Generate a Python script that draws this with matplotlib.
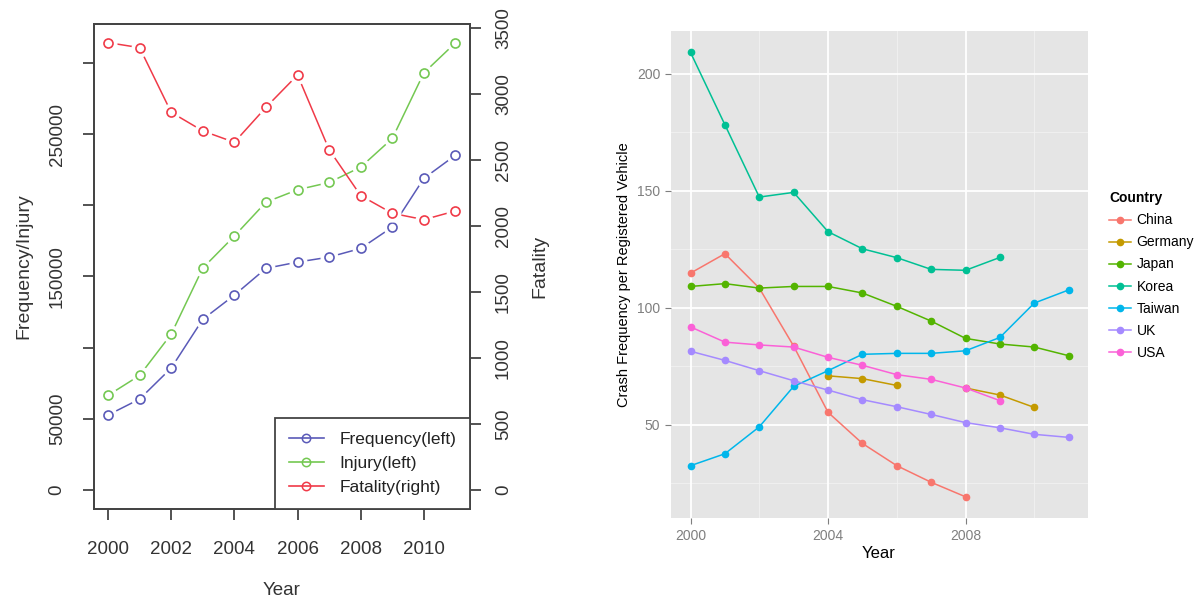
import numpy as np
import matplotlib
matplotlib.use("Agg")
import matplotlib.pyplot as plt
from matplotlib.lines import Line2D

# ---- left panel data ----
years_left = list(range(2000, 2012))
frequency = [52700, 63900, 85700, 119900, 136900, 155700, 160100, 163600,
             169700, 184700, 218900, 235200]
injury = [66500, 80500, 109500, 155900, 178400, 202200, 210900, 216000,
          226800, 246900, 293000, 314100]
fatality = [3389, 3351, 2861, 2720, 2634, 2899, 3144, 2578, 2230, 2096,
            2048, 2114]
left_ticks = [0, 50000, 100000, 150000, 200000, 250000, 300000]
left_ticklabels = ["0", "50000", "", "150000", "", "250000", ""]
right_ticks = [0, 500, 1000, 1500, 2000, 2500, 3000, 3500]
x_ticks_left = [2000, 2002, 2004, 2006, 2008, 2010]

# ---- right panel data ----
years_right = list(range(2000, 2012))
nan = np.nan
countries = ["China", "Germany", "Japan", "Korea", "Taiwan", "UK", "USA"]
china = [114.8, 123.1, 108.4, 83.6, 55.3, 42.0, 32.5, 25.4, 19.2, nan, nan, nan]
germany = [nan, nan, nan, nan, 70.9, 69.7, 66.8, nan, 65.7, 62.7, 57.4, nan]
japan = [109.1, 110.3, 108.4, 109.1, 109.1, 106.3, 100.6, 94.3, 86.9, 84.5, 83.2, 79.5]
korea = [209.1, 178.2, 147.3, 149.3, 132.5, 125.2, 121.4, 116.4, 116.0, 121.5, nan, nan]
taiwan = [32.5, 37.6, 49.1, 66.4, 73.1, 80.1, 80.5, 80.5, 81.6, 87.3, 102.0, 107.6]
uk = [81.4, 77.5, 73.1, 68.8, 64.8, 60.7, 57.7, 54.4, 50.9, 48.7, 45.9, 44.6]
usa = [91.8, 85.3, 84.1, 83.2, 78.8, 75.4, 71.4, 69.4, 65.7, 60.3, nan, nan]
country_values = [china, germany, japan, korea, taiwan, uk, usa]
country_colors = ["#F8766D", "#C49A00", "#53B400", "#00C094", "#00B6EB",
                  "#A58AFF", "#FB61D7"]

fig = plt.figure(figsize=(12.02, 6.02), dpi=100)
plt.rcParams['font.family'] = ['Liberation Sans', 'DejaVu Sans']
axis_col = "#444444"

# ================= left panel (R base style) =================
ax = fig.add_axes([0.0778, 0.1545, 0.3132, 0.8056])
ax2 = ax.twinx()

def r_series(axis, x, y, color, z):
    # R type="b": line with gaps around open circles
    axis.plot(x, y, color=color, lw=1.1, zorder=z)
    axis.plot(x, y, ls='none', marker='o', ms=12, mfc='white', mec='white',
              zorder=z + 0.1)
    axis.plot(x, y, ls='none', marker='o', ms=6.5, mfc='none', mec=color,
              mew=1.2, zorder=z + 0.2)

blue, green, red = "#5A5AB8", "#74C852", "#F03A48"
r_series(ax, years_left, frequency, blue, 2)
r_series(ax, years_left, injury, green, 3)
r_series(ax2, years_left, fatality, red, 2)

ax.set_xlim(1999.54, 2011.46)
ax.set_ylim(-13300, 327300)
ax2.set_ylim(-144, 3530)

for a in (ax, ax2):
    for s in a.spines.values():
        s.set_color(axis_col)
        s.set_linewidth(1.3)
    a.tick_params(colors=axis_col, width=1.3, length=8)

ax.set_xticks(x_ticks_left)
ax.set_xticklabels([str(v) for v in x_ticks_left], fontsize=13.5,
                   color="#333333")
ax.tick_params(axis='x', pad=15)
ax.set_yticks(left_ticks)
ax.set_yticklabels(left_ticklabels, rotation=90, va='center', fontsize=13.5,
                   color="#333333")
ax.tick_params(axis='y', pad=12)
ax2.set_yticks(right_ticks)
ax2.set_yticklabels([str(v) for v in right_ticks], rotation=90, va='center',
                    fontsize=13.5, color="#333333")
ax2.tick_params(axis='y', pad=10)

ax.set_xlabel("Year", fontsize=13.5, color="#333333", labelpad=17)
ax.set_ylabel("Frequency/Injury", fontsize=14, color="#333333", labelpad=12)
ax2.set_ylabel("Fatality", fontsize=14, color="#333333", labelpad=14)

handles = [Line2D([], [], color=c, lw=1.2, marker='o', ms=6, mfc='none',
                  mew=1.1) for c in (blue, green, red)]
leg = ax2.legend(handles, ["Frequency(left)", "Injury(left)", "Fatality(right)"],
                 loc='lower right', bbox_to_anchor=(1.0, 0.0), fancybox=False,
                 framealpha=1, edgecolor=axis_col, borderpad=0.8,
                 handlelength=2.0, handletextpad=0.9, labelspacing=0.5,
                 borderaxespad=0, prop={'size': 12.5})
leg.get_frame().set_linewidth(1.3)
for t in leg.get_texts():
    t.set_color("#222222")

# ================= right panel (ggplot style) =================
bx = fig.add_axes([0.5579, 0.139, 0.3469, 0.810])
bx.set_facecolor("#E5E5E5")
bx.set_xlim(1999.42, 2011.55)
bx.set_ylim(10.0, 218.4)
for s in bx.spines.values():
    s.set_visible(False)

for v in [2002, 2006, 2010]:
    bx.axvline(v, color="#F2F2F2", lw=0.6, zorder=0)
for v in [25, 75, 125, 175]:
    bx.axhline(v, color="#F2F2F2", lw=0.6, zorder=0)
for v in [2000, 2004, 2008]:
    bx.axvline(v, color="white", lw=1.3, zorder=0)
for v in [50, 100, 150, 200]:
    bx.axhline(v, color="white", lw=1.3, zorder=0)

for name, vals, col in zip(countries, country_values, country_colors):
    bx.plot(years_right, vals, color=col, lw=1.1, marker='o', ms=4.5,
            label=name, zorder=3)

bx.set_xticks([2000, 2004, 2008])
bx.set_yticks([50, 100, 150, 200])
bx.tick_params(colors="#7F7F7F", labelsize=10, length=4, width=0.8)
for lab in bx.get_xticklabels() + bx.get_yticklabels():
    lab.set_color("#7F7F7F")
bx.set_xlabel("Year", fontsize=12, labelpad=2)
bx.set_ylabel("Crash Frequency per Registered Vehicle", fontsize=10.5,
              labelpad=4)

leg2 = bx.legend(title="Country", loc='upper left',
                 bbox_to_anchor=(1.038, 0.682), frameon=False, fontsize=10,
                 handlelength=1.6, handletextpad=0.4, labelspacing=0.58,
                 borderaxespad=0)
leg2.get_title().set_fontweight('bold')
leg2.get_title().set_fontsize(10)
leg2._legend_box.align = "left"

fig.savefig("out.png", dpi=100)
